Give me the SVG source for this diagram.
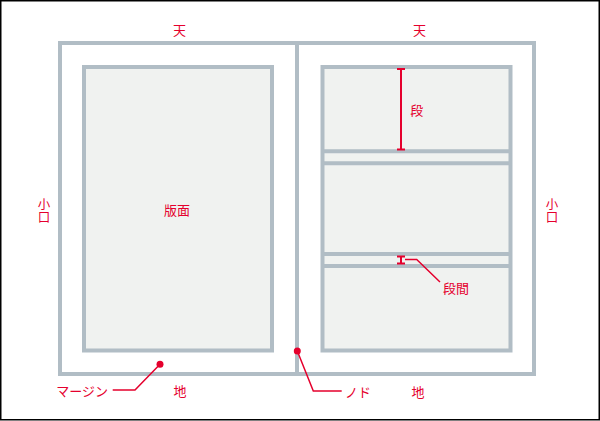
<svg xmlns="http://www.w3.org/2000/svg" width="600" height="421" viewBox="0 0 600 421">
<style>
.g{fill:none;stroke:#b1bdc5;stroke-width:4}
.p{fill:#f0f2f0;stroke:#b1bdc5;stroke-width:4}
.r{fill:none;stroke:#e5002d;stroke-width:1.5}
.d{fill:none;stroke:#e5002d;stroke-width:2}
.t{font-family:"Noto Sans CJK JP","Noto Sans",sans-serif;font-size:13px;fill:#e5002d;dominant-baseline:central}
.v{font-family:"Noto Sans CJK JP","Noto Sans",sans-serif;font-size:12.5px;fill:#e5002d;writing-mode:vertical-rl;letter-spacing:0.5px}
</style>
<rect x="0.75" y="0.75" width="598.5" height="419" fill="#ffffff" stroke="#000000" stroke-width="1.5"/>
<g id="page-frame">
<rect class="g" x="60" y="43" width="474" height="331" fill="#ffffff"/>
<line class="g" x1="297" y1="43" x2="297" y2="374"/>
</g>
<g id="left-hanmen">
<rect class="p" x="84" y="67" width="188" height="283.5"/>
<text class="t" x="177" y="209.5" text-anchor="middle">版面</text>
</g>
<g id="right-hanmen">
<rect class="p" x="322.5" y="67" width="188" height="283.5"/>
<line class="g" x1="322.5" y1="151.3" x2="510.5" y2="151.3"/>
<line class="g" x1="322.5" y1="163.3" x2="510.5" y2="163.3"/>
<line class="g" x1="322.5" y1="254" x2="510.5" y2="254"/>
<line class="g" x1="322.5" y1="266" x2="510.5" y2="266"/>
</g>
<g id="labels">
<text class="t" x="179.5" y="29" text-anchor="middle">天</text>
<text class="t" x="419.5" y="29" text-anchor="middle">天</text>
<text class="v" x="44" y="197.5">小口</text>
<text class="v" x="552" y="197.5">小口</text>
<text class="t" x="180" y="390.5" text-anchor="middle">地</text>
<text class="t" x="418" y="391" text-anchor="middle">地</text>
<text class="t" x="416.7" y="109" text-anchor="middle">段</text>
<text class="t" x="443" y="287">段間</text>
<text class="t" x="108" y="390.5" text-anchor="end">マージン</text>
<text class="t" x="345" y="391">ノド</text>
</g>
<g id="connectors">
<line class="d" x1="401" y1="69" x2="401" y2="149.5"/>
<line class="d" x1="397" y1="69" x2="405" y2="69"/>
<line class="d" x1="397" y1="149.5" x2="405" y2="149.5"/>
<line class="d" x1="401" y1="256.5" x2="401" y2="263.5"/>
<line class="d" x1="397" y1="256.5" x2="405" y2="256.5"/>
<line class="d" x1="397" y1="263.5" x2="405" y2="263.5"/>
<polyline class="r" points="405,259.5 416.7,259.5 440,282"/>
<circle cx="160" cy="364.3" r="3.5" fill="#e5002d"/>
<polyline class="r" points="160,364.3 135,390 112.7,390"/>
<circle cx="297.3" cy="351" r="3.5" fill="#e5002d"/>
<polyline class="r" points="297.3,351 313.3,391 341.7,391"/>
</g>
</svg>
